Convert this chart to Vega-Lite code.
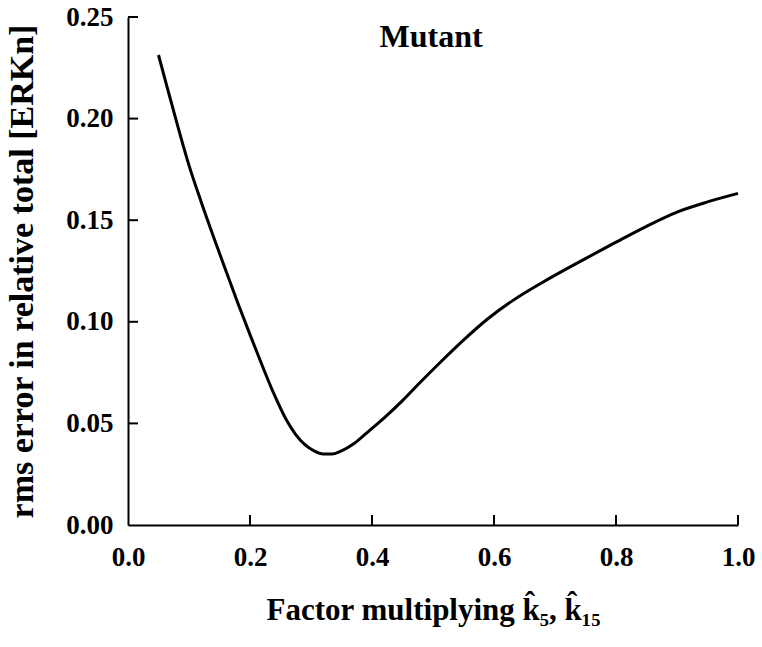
{
  "$schema": "https://vega.github.io/schema/vega-lite/v6.json",
  "width": 610,
  "height": 508,
  "autosize": {"type": "none"},
  "padding": {"left": 128, "top": 17, "right": 24, "bottom": 122},
  "config": {
    "view": {"stroke": null},
    "font": "Liberation Serif",
    "axis": {
      "grid": false,
      "domainColor": "#000",
      "domainWidth": 2,
      "ticks": false,
      "labelFont": "Liberation Serif",
      "labelFontWeight": "bold",
      "labelFontSize": 27,
      "labelColor": "#000",
      "labelFlush": false,
      "labelOverlap": false,
      "titleFont": "Liberation Serif",
      "titleFontWeight": "bold",
      "titleColor": "#000"
    }
  },
  "layer": [
    {
      "data": {
        "values": [
          {"f": 0.050, "rms": 0.2313},
          {"f": 0.065, "rms": 0.2145},
          {"f": 0.080, "rms": 0.1980},
          {"f": 0.100, "rms": 0.1770},
          {"f": 0.120, "rms": 0.1590},
          {"f": 0.140, "rms": 0.1420},
          {"f": 0.160, "rms": 0.1255},
          {"f": 0.180, "rms": 0.1093},
          {"f": 0.200, "rms": 0.0937},
          {"f": 0.220, "rms": 0.0785},
          {"f": 0.240, "rms": 0.0640},
          {"f": 0.260, "rms": 0.0515},
          {"f": 0.275, "rms": 0.0445},
          {"f": 0.290, "rms": 0.0395},
          {"f": 0.305, "rms": 0.0365},
          {"f": 0.320, "rms": 0.0350},
          {"f": 0.335, "rms": 0.0350},
          {"f": 0.350, "rms": 0.0365},
          {"f": 0.370, "rms": 0.0400},
          {"f": 0.390, "rms": 0.0450},
          {"f": 0.420, "rms": 0.0527},
          {"f": 0.450, "rms": 0.0612},
          {"f": 0.480, "rms": 0.0705},
          {"f": 0.510, "rms": 0.0795},
          {"f": 0.550, "rms": 0.0910},
          {"f": 0.590, "rms": 0.1015},
          {"f": 0.630, "rms": 0.1103},
          {"f": 0.680, "rms": 0.1195},
          {"f": 0.740, "rms": 0.1295},
          {"f": 0.800, "rms": 0.1392},
          {"f": 0.850, "rms": 0.1470},
          {"f": 0.900, "rms": 0.1540},
          {"f": 0.950, "rms": 0.1590},
          {"f": 1.000, "rms": 0.1632}
        ]
      },
      "mark": {"type": "line", "color": "#000", "strokeWidth": 3, "interpolate": "monotone"},
      "encoding": {
        "x": {
          "field": "f",
          "type": "quantitative",
          "scale": {"domain": [0, 1], "nice": false, "zero": false},
          "axis": {
            "title": "Factor multiplying k̂₅, k̂₁₅",
            "titleFontSize": 31,
            "values": [0, 0.2, 0.4, 0.6, 0.8, 1.0],
            "format": ".1f",
            "labelPadding": 19,
            "titlePadding": 25
          }
        },
        "y": {
          "field": "rms",
          "type": "quantitative",
          "scale": {"domain": [0, 0.25], "nice": false},
          "axis": {
            "title": "rms error in relative total [ERKn]",
            "titleFontSize": 34,
            "values": [0, 0.05, 0.1, 0.15, 0.2, 0.25],
            "format": ".2f",
            "labelPadding": 15,
            "titlePadding": 26
          }
        }
      }
    },
    {
      "data": {"values": [{"t": 0.2}, {"t": 0.4}, {"t": 0.6}, {"t": 0.8}, {"t": 1.0}]},
      "mark": {"type": "rule", "color": "#000", "strokeWidth": 2},
      "encoding": {
        "x": {"field": "t", "type": "quantitative"},
        "y": {"datum": 0},
        "y2": {"datum": 0.0049}
      }
    },
    {
      "data": {"values": [{"v": 0.05}, {"v": 0.1}, {"v": 0.15}, {"v": 0.2}, {"v": 0.25}]},
      "mark": {"type": "rule", "color": "#000", "strokeWidth": 2},
      "encoding": {
        "y": {"field": "v", "type": "quantitative"},
        "x": {"datum": 0},
        "x2": {"datum": 0.0164}
      }
    },
    {
      "data": {"values": [{"label": "Mutant", "f": 0.497, "rms": 0.2352}]},
      "mark": {"type": "text", "font": "Liberation Serif", "fontWeight": "bold", "fontSize": 32, "color": "#000", "baseline": "alphabetic", "align": "center"},
      "encoding": {
        "x": {"field": "f", "type": "quantitative"},
        "y": {"field": "rms", "type": "quantitative"},
        "text": {"field": "label"}
      }
    }
  ]
}
